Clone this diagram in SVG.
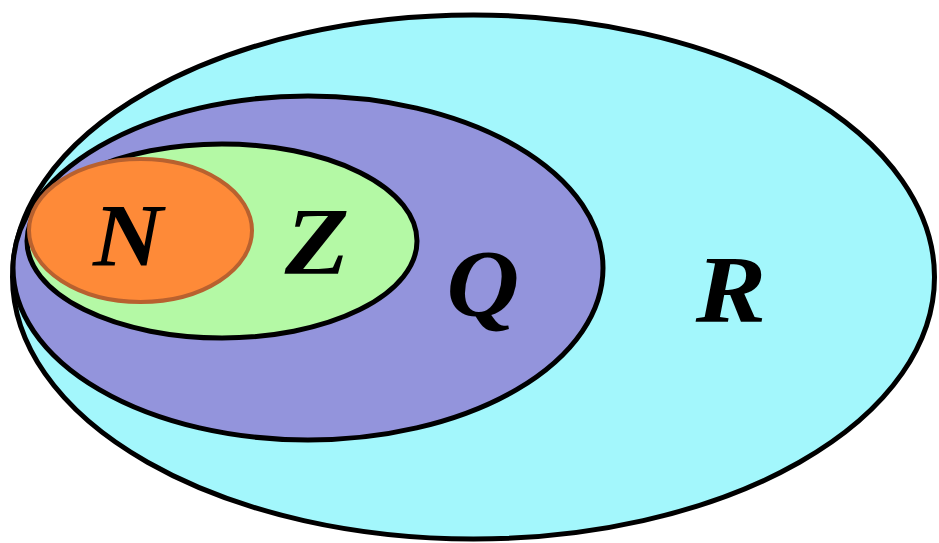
<svg xmlns="http://www.w3.org/2000/svg" width="939" height="543" viewBox="0 0 939 543">
<style>
.set{stroke:#000;stroke-width:5}
.lbl{fill:#000;text-anchor:middle}
</style>
<rect width="939" height="543" fill="#fff"/>
<g id="R">
<ellipse class="set" cx="473.5" cy="277" rx="461" ry="262" fill="#a3f7fc"/>
<text class="lbl" transform="translate(731 322) scale(1.1 1)" font-family="Liberation Serif, serif" font-weight="bold" font-style="italic" font-size="96">R</text>
</g>
<g id="Q">
<ellipse class="set" cx="308" cy="268" rx="295" ry="172" fill="#9394dc"/>
<text class="lbl" transform="translate(483 316) scale(1.05 1)" font-family="Liberation Serif, serif" font-weight="bold" font-style="italic" font-size="96">Q</text>
</g>
<g id="Z">
<ellipse class="set" cx="222" cy="241" rx="195" ry="97" fill="#b4f9a5"/>
<text class="lbl" transform="translate(317 274) scale(1.1 1)" font-family="Liberation Serif, serif" font-weight="bold" font-style="italic" font-size="96">Z</text>
</g>
<g id="N">
<ellipse cx="140.5" cy="230.5" rx="111.5" ry="71.5" fill="#fe8a38" stroke="#b8612f" stroke-width="4"/>
<text class="lbl" transform="translate(128 265) scale(1.1 1)" font-family="Liberation Serif, serif" font-weight="bold" font-style="italic" font-size="88">N</text>
</g>
<g id="connectors"/>
</svg>
